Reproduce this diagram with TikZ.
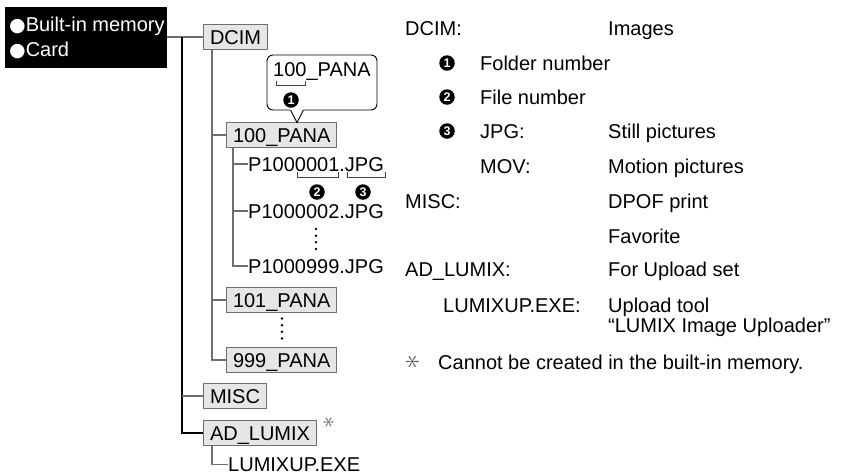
\RequirePackage{fix-cm}
\documentclass[tikz,border=0pt]{standalone}
\usepackage{fontspec}
\setmainfont{Liberation Sans}
\newfontfamily\dejavu{DejaVu Sans}
\definecolor{linegray}{HTML}{6E6E6E}
\definecolor{boxgray}{HTML}{707070}
\definecolor{boxfill}{HTML}{E6E6E6}
\definecolor{astgray}{HTML}{666666}
\begin{document}
\begin{tikzpicture}[x=1pt,y=-1pt,
  every node/.style={font=\fontsize{20}{24}\selectfont},
  lbl/.style={anchor=west, inner sep=0pt, text height=14.3pt, text depth=0pt},
  fbox/.style={anchor=west, draw=boxgray, fill=boxfill, line width=1pt, inner xsep=6.5pt, inner ysep=0pt, text height=14.3pt, text depth=0pt, minimum height=25pt},
  tline/.style={draw=linegray, line width=1.3pt},
  trunk/.style={draw=black, line width=1.3pt},
  num/.style={circle, fill=black, text=white, inner sep=0pt, minimum size=15.5pt, font=\bfseries\fontsize{12.5}{12.5}\selectfont},
  brk/.style={draw=black!75, line width=0.9pt},
  astk/.style={text=astgray, rotate=90, inner sep=0pt}
]
\useasboundingbox (0,0) rectangle (847,475);

% black header box
\node[fill=black, minimum width=162pt, minimum height=61pt, inner sep=0pt, anchor=north west] (blk) at (5,7) {};
\node[lbl, text=white] (bim) at (9,24.5) {{\dejavu\fontsize{19}{19}\selectfont ●}Built-in memory};
\node[lbl, text=white] (bcard) at (9,49.5) {{\dejavu\fontsize{19}{19}\selectfont ●}Card};

% tree boxes and files
\node[fbox] (dcim) at (203,37) {DCIM};
\node[fbox] (p100) at (226,135) {100\_PANA};
\node[lbl] (f1) at (248,164) {P1000001.JPG};
\node[lbl] (f2) at (248,211) {P1000002.JPG};
\node[lbl] (f999) at (248,266) {P1000999.JPG};
\node[fbox] (p101) at (226,300) {101\_PANA};
\node[fbox] (p999) at (226,360) {999\_PANA};
\node[fbox] (misc) at (203,396) {MISC};
\node[fbox] (adl) at (203,433) {AD\_LUMIX};
\node[astk] (ast1) at (329,422) {\fontsize{24}{24}\selectfont$\ast$};
\node[lbl] (lux) at (228,464.5) {LUMIXUP.EXE};

% tree connectors
\coordinate (j) at (182,37);
\draw[tline] (blk.east |- dcim.west) -- (dcim.west);
\draw[trunk] (j) |- (adl.west);
\draw[tline] (j |- misc.west) -- (misc.west);
\draw[tline] ([xshift=9pt]dcim.south west) |- (p999.west);
\draw[tline] ([xshift=9pt]dcim.south west |- p100.west) -- (p100.west);
\draw[tline] ([xshift=9pt]dcim.south west |- p101.west) -- (p101.west);
\draw[tline] ([xshift=7pt]p100.south west) |- (f999.west);
\draw[tline] ([xshift=7pt]p100.south west |- f1.west) -- (f1.west);
\draw[tline] ([xshift=7pt]p100.south west |- f2.west) -- (f2.west);
\draw[tline] ([xshift=9pt]adl.south west) |- (lux.west);

% vertical dots
\foreach \yy in {229,235.7,242.3,249} \fill (316,\yy) circle (1.4pt);
\foreach \yy in {318.5,325.2,331.8,338.5} \fill (282,\yy) circle (1.4pt);

% file-name brackets
\draw[brk] (297,172) -- (297,177) -- (338,177) -- (338,172);
\draw[brk] (347,172) -- (347,177) -- (385,177) -- (385,172);
\node[num] (b2) at (317,192) {2};
\node[num] (b3) at (363,192) {3};

% callout
\node[draw, fill=white, rounded corners=6pt, line width=0.9pt, minimum width=110pt, minimum height=55pt, inner sep=0pt] (call) at (322,82.5) {};
\coordinate (tip) at (297,122.5);
\fill[white] (290,108.5) rectangle (304,111.5);
\draw[line width=0.9pt] (290.5,110) -- (tip) -- (303.5,110);
\node[lbl] (ctext) at (273,69) {100\_PANA};
\draw[brk] (276,81) -- (276,85) -- (305,85) -- (305,81);
\node[num] (c1) at (291,100) {1};

% legend
\node[lbl] (rdcim) at (405,28) {DCIM:};
\node[lbl] (rimg) at (608,28) {Images};
\node[num] (n1) at (447,63) {1};
\node[lbl] (rfold) at (480,63) {Folder number};
\node[num] (n2) at (447,97) {2};
\node[lbl] (rfile) at (480,97) {File number};
\node[num] (n3) at (447,131) {3};
\node[lbl] (rjpg) at (480,131) {JPG:};
\node[lbl] (rstill) at (608,131) {Still pictures};
\node[lbl] (rmov) at (480,166) {MOV:};
\node[lbl] (rmot) at (608,166) {Motion pictures};
\node[lbl] (rmisc) at (405,201) {MISC:};
\node[lbl] (rdpof) at (608,201) {DPOF print};
\node[lbl] (rfav) at (608,236) {Favorite};
\node[lbl] (radl) at (405,269) {AD\_LUMIX:};
\node[lbl] (rup) at (608,269) {For Upload set};
\node[lbl] (rlux) at (443,305) {LUMIXUP.EXE:};
\node[lbl] (rtool) at (608,305) {Upload tool};
\node[lbl] (rtool2) at (608,325) {“LUMIX Image Uploader”};
\node[astk] (ast2) at (413,362) {\fontsize{30}{30}\selectfont$\ast$};
\node[lbl] (rnote) at (438,362) {Cannot be created in the built-in memory.};
\end{tikzpicture}
\end{document}
